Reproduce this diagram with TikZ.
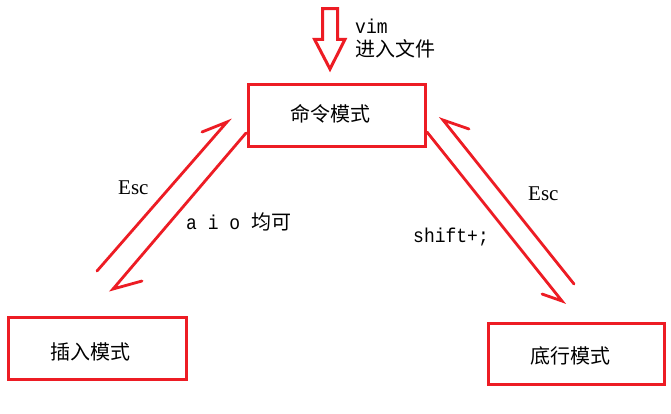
\documentclass[tikz,border=0pt]{standalone}
\usepackage{fontspec}
\newfontfamily\cjk{Noto Sans CJK SC}
\newfontfamily\monofnt[FakeStretch=0.9]{Liberation Mono}
\newfontfamily\seriffnt{Liberation Serif}
\definecolor{pred}{RGB}{237,28,36}
\begin{document}
\begin{tikzpicture}[x=1pt,y=-1pt,
  modebox/.style={draw=pred, line width=3pt, minimum width=#1, minimum height=62pt, inner sep=0pt},
  boxtext/.style={font=\cjk\fontsize{20pt}{24pt}\selectfont, inner sep=0pt},
  note/.style={inner sep=0pt, anchor=base west},
  monotext/.style={note, font=\monofnt\fontsize{20pt}{24pt}\selectfont},
  esctext/.style={note, font=\seriffnt\fontsize{21pt}{24pt}\selectfont},
  cjktext/.style={note, font=\cjk\fontsize{20pt}{24pt}\selectfont},
  redline/.style={draw=pred, line width=2.8pt, line join=miter, line cap=round}]
\useasboundingbox (0,0) rectangle (671,413);
\fill[white] (0,0) rectangle (671,413);

% boxes
\node[modebox=177pt, label={[boxtext, xshift=-6.5pt, yshift=1.5pt]center:命令模式}] (cmd) at (337,115.5) {};
\node[modebox=178pt, label={[boxtext, xshift=-7pt, yshift=-3.5pt]center:插入模式}] (ins) at (97.5,348.5) {};
\node[modebox=176pt, minimum height=61pt, label={[boxtext, xshift=-6pt, yshift=-2pt]center:底行模式}] (last) at (576.5,354) {};

% hollow entry arrow
\draw[draw=pred, line width=3pt, line join=miter]
  (322.5,8.5) -- (337.5,8.5) -- (337.5,39.3) -- (345,39.3) -- (330,69) -- (314.5,39.3) -- (322.5,39.3) -- cycle;
\node[monotext] (vim) at (355,33) {vim};
\node[cjktext] (enter) at (355,56) {进入文件};

% arrow coordinates
\coordinate (a1s) at (97,271);  \coordinate (a1t) at (227,122); \coordinate (a1b) at (202,132);
\coordinate (a2s) at (246,133); \coordinate (a2t) at (113,289); \coordinate (a2b) at (142,281);
\coordinate (a3s) at (574,284); \coordinate (a3t) at (443,120); \coordinate (a3b) at (469,129);
\coordinate (a4s) at (427,132); \coordinate (a4t) at (562,301); \coordinate (a4b) at (542,294);

\draw[redline] (a1s) -- (a1t) -- (a1b);
\draw[redline] (a2s) -- (a2t) -- (a2b);
\draw[redline] (a3s) -- (a3t) -- (a3b);
\draw[redline] (a4s) -- (a4t) -- (a4b);

% labels
\node[esctext] (escl) at (118,194) {Esc};
\node[esctext] (escr) at (528,200) {Esc};
\node[note] (aio) at (186,229) {{\monofnt\fontsize{20pt}{24pt}\selectfont a i o }{\cjk\fontsize{20pt}{24pt}\selectfont 均可}};
\node[monotext] (shift) at (413,242) {shift+;};
\end{tikzpicture}
\end{document}
